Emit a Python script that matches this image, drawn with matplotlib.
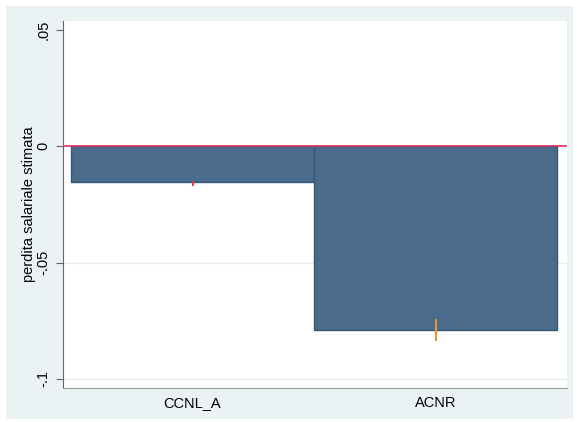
import matplotlib
matplotlib.use('Agg')
import matplotlib.pyplot as plt
from matplotlib.patches import Rectangle

plt.rcParams['font.family'] = ['Liberation Sans', 'DejaVu Sans']

# dati
categorie = ['CCNL_A', 'ACNR']
stime = [-0.0155, -0.079]
ci_basso = [-0.0172, -0.0835]
ci_alto = [-0.0150, -0.0742]
colori_ci = ['#d9423a', '#e8952c']
y_ticks = [-0.1, -0.05, 0, 0.05]
y_labels = ['-.1', '-.05', '0', '.05']
griglia = [-0.1, -0.05]

fig = plt.figure(figsize=(5.77, 4.22), dpi=100, facecolor='white')
fig.patches.append(Rectangle((6 / 577, 3 / 422), 567 / 577, 413 / 422,
                             transform=fig.transFigure, facecolor='#eaf2f3',
                             edgecolor='none', zorder=-10))
ax = fig.add_axes([63 / 577, 34 / 422, 504 / 577, 367 / 422])
ax.set_zorder(1)
ax.set_facecolor('white')

x = list(range(len(categorie)))
for g in griglia:
    ax.axhline(g, color='#e6eded', linewidth=0.9, zorder=1)
ax.bar(x, stime, width=1.0, color='#4a6b8b', edgecolor='#35587a', linewidth=1.0, zorder=2)
for i in x:
    ax.vlines(i, ci_basso[i], ci_alto[i], color=colori_ci[i], linewidth=1.5, zorder=3)
ax.axhline(0, color='#e0305a', linewidth=1.2, zorder=4)

ax.set_xlim(-0.533, 1.541)
ax.set_ylim(-0.1039, 0.0539)
ax.set_yticks(y_ticks)
ax.set_yticklabels(y_labels, rotation=90, va='center', fontsize=10.5)
ax.set_xticks(x)
ax.set_xticklabels(categorie, fontsize=10.5)
ax.tick_params(axis='x', length=0, pad=6)
ax.tick_params(axis='y', length=5, color='#666666', pad=4)
for s in ['top', 'right']:
    ax.spines[s].set_visible(False)
ax.spines['left'].set_color('#666666')
ax.spines['bottom'].set_color('#999999')
ax.set_ylabel('perdita salariale stimata', fontsize=10.5, labelpad=0)

fig.savefig('out.png', dpi=100, facecolor=fig.get_facecolor())
